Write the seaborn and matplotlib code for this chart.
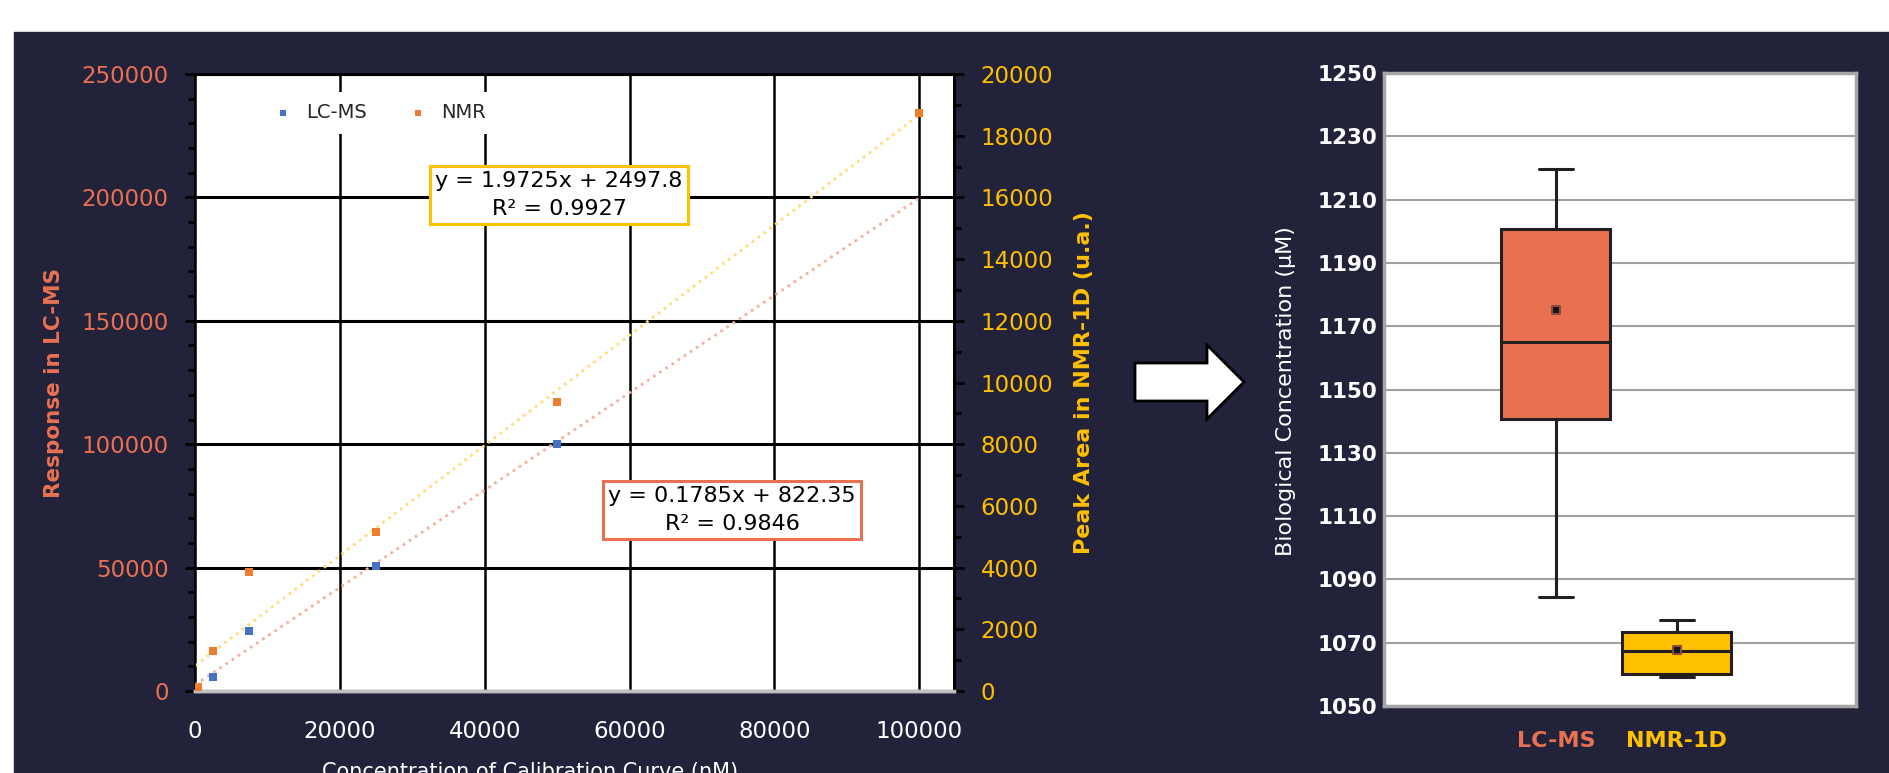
import numpy as np
import pandas as pd
import seaborn as sns
import matplotlib
matplotlib.use("Agg")
import matplotlib.pyplot as plt
from matplotlib.patches import Rectangle, Polygon
from matplotlib.ticker import MultipleLocator

# calibration points
lcms_conc = [0, 2500, 7500, 25000, 50000]
lcms_resp = [300, 5800, 24400, 50600, 100000]
nmr_conc = [400, 2500, 7500, 25000, 50000, 100000]
nmr_area = [140, 1300, 3870, 5150, 9360, 18750]

# trend lines as printed on the chart (slope, intercept, R2)
lcms_fit = (1.9725, 2497.8, 0.9927)
nmr_fit = (0.1785, 822.35, 0.9846)
fit_range = [0, 100000]

# box plot: min, q1, median, q3, max + mean
groups = ["LC-MS", "NMR-1D"]
lcms_summary = [1084.4, 1140.8, 1165.1, 1200.8, 1219.6]
nmr_summary = [1059.3, 1060.1, 1067.3, 1073.5, 1077.1]
means = [1175.2, 1067.8]

navy = "#22223A"
red = "#E97152"
yellow = "#FFC000"
blue = "#4472C4"
orange = "#ED7D31"

W, H = 1890, 773
sns.set_theme(style="white")
plt.rcParams["font.family"] = ["DejaVu Sans"]

fig = plt.figure(figsize=(W / 100, H / 100), dpi=100)
fig.patch.set_facecolor("white")
fig.add_artist(Rectangle((14 / W, 0), 1, (H - 32) / H, transform=fig.transFigure,
                         color=navy, zorder=-5))

# ---------- calibration curve ----------
ax = fig.add_axes([195 / W, (H - 691) / H, (954 - 195) / W, (691 - 74) / H])
ax.set_facecolor("white")
sns.scatterplot(x=lcms_conc, y=lcms_resp, ax=ax, color=blue, marker="s", s=34,
                edgecolor="none", zorder=3, label="LC-MS")
x_line = np.array(fit_range)
ax.plot(x_line, lcms_fit[0] * x_line + lcms_fit[1], ls=":", lw=2, color="#F2B2A0", zorder=2)

ax2 = ax.twinx()
sns.scatterplot(x=nmr_conc, y=nmr_area, ax=ax2, color=orange, marker="s", s=34,
                edgecolor="none", zorder=3, label="NMR")
ax2.plot(x_line, nmr_fit[0] * x_line + nmr_fit[1], ls=":", lw=2, color="#FFDD7A", zorder=2)

ax.set_xlim(0, 104800)
ax.set_ylim(0, 250000)
ax2.set_ylim(0, 20000)
ax.set_xticks(range(0, 100001, 20000))
ax.set_yticks(range(0, 250001, 50000))
ax.yaxis.set_minor_locator(MultipleLocator(10000))
ax2.set_yticks(range(0, 20001, 2000))
ax2.yaxis.set_minor_locator(MultipleLocator(1000))
for a in (ax, ax2):
    a.set_xlabel("")
    a.set_ylabel("")

ax.yaxis.grid(True, color="black", lw=2.2)
ax.xaxis.grid(True, color="black", lw=1.8)
ax.set_axisbelow(True)

ax.tick_params(axis="x", length=0, pad=21, labelsize=16.5, labelcolor="white")
ax.tick_params(axis="y", which="major", length=7, width=2, color="black",
               pad=12, labelsize=16.5, labelcolor=red, left=True)
ax.tick_params(axis="y", which="minor", length=5, width=2, color="black", left=True)
ax2.tick_params(axis="y", which="major", length=7, width=2, color="black",
                pad=12, labelsize=16.5, labelcolor=yellow, right=True)
ax2.tick_params(axis="y", which="minor", length=5, width=2, color="black", right=True)

for a in (ax, ax2):
    a.spines["bottom"].set_color("#BFBFBF")
    a.spines["bottom"].set_linewidth(2.5)
    a.spines["top"].set_color("black")
    a.spines["top"].set_linewidth(2.2)
    a.spines["left"].set_color("black")
    a.spines["left"].set_linewidth(1.2)
    a.spines["right"].set_color("black")
    a.spines["right"].set_linewidth(2)

h1, l1 = ax.get_legend_handles_labels()
h2, l2 = ax2.get_legend_handles_labels()
ax.get_legend().remove()
ax2.legend(h1 + h2, l1 + l2, loc="center", bbox_to_anchor=(0.237, 0.937),
           ncol=2, frameon=True, facecolor="white", edgecolor="none", framealpha=1,
           fontsize=14, markerscale=0.75, handletextpad=0.2, columnspacing=1.6,
           borderpad=0.6, fancybox=False)

ax2.text(0.4796, 0.804, f"y = {lcms_fit[0]}x + {lcms_fit[1]}\nR² = {lcms_fit[2]}",
         transform=ax.transAxes, ha="center", va="center", fontsize=16, color="black",
         linespacing=1.45, zorder=6,
         bbox=dict(boxstyle="square,pad=0.25", fc="white", ec=yellow, lw=2.2))
ax2.text(0.7075, 0.2934, f"y = {nmr_fit[0]}x + {nmr_fit[1]}\nR² = {nmr_fit[2]}",
         transform=ax.transAxes, ha="center", va="center", fontsize=16, color="black",
         linespacing=1.45, zorder=6,
         bbox=dict(boxstyle="square,pad=0.25", fc="white", ec=red, lw=2.2))

fig.text(54 / W, 1 - 383 / H, "Response in LC-MS", rotation=90, color=red,
         fontsize=15.5, fontweight="bold", ha="center", va="center")
fig.text(1084 / W, 1 - 383 / H, "Peak Area in NMR-1D (u.a.)", rotation=90, color=yellow,
         fontsize=16, fontweight="bold", ha="center", va="center")
fig.text(530 / W, 1 - 772 / H, "Concentration of Calibration Curve (nM)", color="white",
         fontsize=15, ha="center", va="center")

# ---------- arrow ----------
arrow_px = [(1135, 363), (1207, 363), (1207, 345), (1244, 382),
            (1207, 419), (1207, 401), (1135, 401)]
fig.add_artist(Polygon([(x / W, 1 - y / H) for x, y in arrow_px], closed=True,
                       transform=fig.transFigure, fc="white", ec="black", lw=2))

# ---------- box plot ----------
axr = fig.add_axes([1384 / W, (H - 706) / H, (1856 - 1384) / W, (706 - 73) / H])
axr.set_facecolor("white")
box_df = pd.DataFrame({
    "method": [groups[0]] * len(lcms_summary) + [groups[1]] * len(nmr_summary),
    "conc": lcms_summary + nmr_summary,
})
sns.boxplot(data=box_df, x="method", y="conc", hue="method", palette=[red, yellow],
            saturation=1, width=0.9, linewidth=2.2, linecolor="#231F20", whis=(0, 100),
            showfliers=False, legend=False, ax=axr)
for c in axr.containers:
    if hasattr(c, "caps"):
        for cap in c.caps:
            m = np.mean(cap.get_xdata())
            cap.set_xdata([m - 0.14, m + 0.14])
axr.scatter(range(len(groups)), means, marker="s", s=30, color="#151515",
            edgecolor="#8C4A3C", lw=1.5, zorder=5)

axr.set_xlim(-1.42, 2.48)
axr.set_ylim(1050, 1250)
axr.set_yticks(range(1050, 1251, 20))
axr.set_xticks(range(len(groups)), groups)
axr.set_xlabel("")
axr.set_ylabel("")
axr.yaxis.grid(True, color="#A0A0A0", lw=1.5)
axr.set_axisbelow(True)
for s in axr.spines.values():
    s.set_color("#A6A6A6")
    s.set_linewidth(2.5)
axr.tick_params(axis="y", length=0, pad=5, labelsize=15.5, labelcolor="white")
axr.tick_params(axis="x", length=0, pad=18, labelsize=16)
for lab in axr.get_yticklabels():
    lab.set_fontweight("bold")
for lab, col in zip(axr.get_xticklabels(), [red, yellow]):
    lab.set_color(col)
    lab.set_fontweight("bold")

fig.text(1286 / W, 1 - 391 / H, "Biological Concentration (µM)", rotation=90,
         color="white", fontsize=16, ha="center", va="center")

fig.savefig("out.png", dpi=100, facecolor=fig.get_facecolor())
